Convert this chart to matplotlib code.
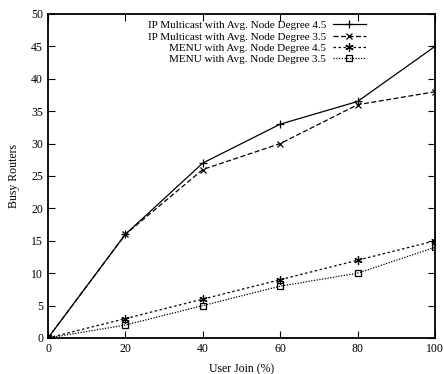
import matplotlib
matplotlib.use("Agg")
import matplotlib.pyplot as plt

x = [0, 20, 40, 60, 80, 100]
ip45 = [0, 16, 27, 33, 36.5, 45]
ip35 = [0, 16, 26, 30, 36, 38]
menu45 = [0, 3, 6, 9, 12, 15]
menu35 = [0, 2, 5, 8, 10, 14]
labels = ["IP Multicast with Avg. Node Degree 4.5",
          "IP Multicast with Avg. Node Degree 3.5",
          "MENU with Avg. Node Degree 4.5",
          "MENU with Avg. Node Degree 3.5"]

plt.rcParams['font.family'] = ['Liberation Serif', 'DejaVu Serif']
fig = plt.figure(figsize=(4.44, 3.74), dpi=100)
ax = fig.add_axes([48/444, 1-338/374, (435-48)/444, (338-14)/374])

ax.plot(x, ip45, color='black', lw=0.9, ls='-', marker='+', ms=6, mew=0.9, label=labels[0])
ax.plot(x, ip35, color='black', lw=0.9, ls=(0, (4, 2)), marker='x', ms=5, mew=0.9, label=labels[1])
ax.plot(x, menu45, color='black', lw=0.9, ls=(0, (2, 2)), marker=(6, 2, 0), ms=6, mew=0.9, label=labels[2])
ax.plot(x, menu35, color='black', lw=0.9, ls=(0, (1, 1.2)), marker='s', ms=5, mew=0.9, mfc='none', label=labels[3])

ax.set_xlim(0, 100)
ax.set_ylim(0, 50)
ax.set_xticks(range(0, 101, 20))
ax.set_yticks(range(0, 51, 5))
ax.tick_params(direction='in', top=True, right=True, length=5, width=0.8, labelsize=8.5)
for s in ax.spines.values():
    s.set_linewidth(1.3)
ax.set_xlabel("User Join (%)", fontsize=8.5, labelpad=6)
ax.set_ylabel("Busy Routers", fontsize=8.5, labelpad=8)

leg = ax.legend(loc='upper right', bbox_to_anchor=(0.822, 0.98), markerfirst=False,
                frameon=False, fontsize=8, handlelength=3.0, handletextpad=0.6,
                labelspacing=0.14, borderaxespad=0, borderpad=0)

fig.savefig("out.png", dpi=100)
